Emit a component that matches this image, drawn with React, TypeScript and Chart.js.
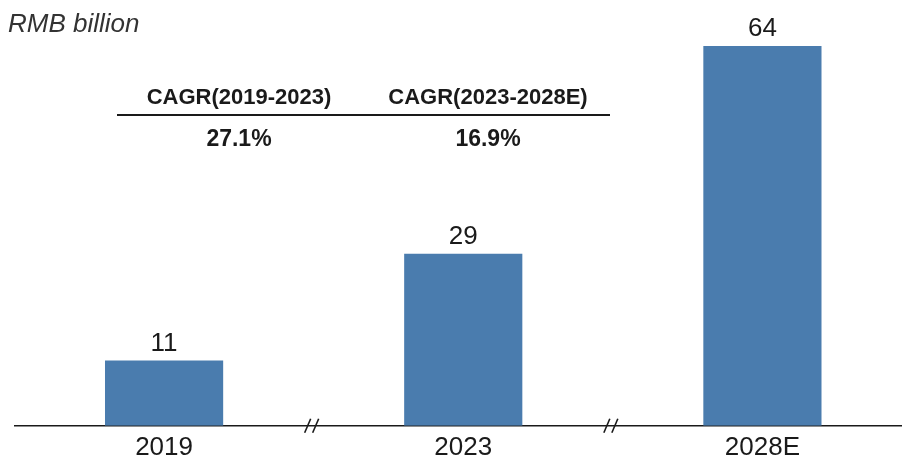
import React, { useEffect, useRef } from "react";
import { Chart, registerables } from "chart.js";

Chart.register(...registerables);

const categories = ["2019", "2023", "2028E"];
const values = [11, 29, 64];
const unitLabel = "RMB billion";
const cagrHeaders = ["CAGR(2019-2023)", "CAGR(2023-2028E)"];
const cagrValues = ["27.1%", "16.9%"];

const BAR_COLOR = "#4a7cae";
const FONT = "'Liberation Sans', Arial, sans-serif";

export default function App() {
  const ref = useRef<HTMLCanvasElement | null>(null);

  useEffect(() => {
    if (!ref.current) return;

    const overlay = {
      id: "overlay",
      afterDraw(chart: any) {
        const ctx = chart.ctx;
        const xs = chart.scales.x;
        const ys = chart.scales.y;
        const meta = chart.getDatasetMeta(0);
        ctx.save();
        // value labels
        ctx.fillStyle = "#1a1a1a";
        ctx.font = `26px ${FONT}`;
        ctx.textAlign = "center";
        ctx.textBaseline = "alphabetic";
        meta.data.forEach((bar: any, i: number) => {
          ctx.fillText(String(values[i]), bar.x, bar.y - 10);
        });
        // axis breaks
        const base = ys.getPixelForValue(0);
        ctx.strokeStyle = "#1a1a1a";
        ctx.lineWidth = 1.6;
        for (let i = 0; i < categories.length - 1; i++) {
          const cx = (xs.getPixelForValue(i) + xs.getPixelForValue(i + 1)) / 2 - 2;
          for (const dx of [-4, 4]) {
            ctx.beginPath();
            ctx.moveTo(cx + dx + 3, base - 7);
            ctx.lineTo(cx + dx - 3, base + 7);
            ctx.stroke();
          }
        }
        // unit label
        ctx.textAlign = "left";
        ctx.fillStyle = "#333";
        ctx.font = `italic 26px ${FONT}`;
        ctx.fillText(unitLabel, 8, 32);
        // CAGR table
        const centers = [239, 488];
        ctx.fillStyle = "#1a1a1a";
        ctx.textAlign = "center";
        ctx.font = `bold 22px ${FONT}`;
        cagrHeaders.forEach((h, i) => ctx.fillText(h, centers[i], 104));
        ctx.font = `bold 23px ${FONT}`;
        cagrValues.forEach((v, i) => ctx.fillText(v, centers[i], 146));
        ctx.lineWidth = 2;
        ctx.beginPath();
        ctx.moveTo(117, 115);
        ctx.lineTo(610, 115);
        ctx.stroke();
        ctx.restore();
      },
    };

    const chart = new Chart(ref.current, {
      type: "bar",
      data: {
        labels: categories,
        datasets: [
          {
            data: values,
            backgroundColor: BAR_COLOR,
            borderWidth: 0,
            categoryPercentage: 1,
            barPercentage: 0.395,
          },
        ],
      },
      options: {
        responsive: false,
        animation: false,
        layout: { padding: { left: 14.5, right: 0, top: 10.5, bottom: 0 } },
        plugins: { legend: { display: false }, tooltip: { enabled: false } },
        scales: {
          x: {
            offset: true,
            grid: { display: false, drawTicks: false },
            border: { display: true, color: "#1a1a1a", width: 1.5 },
            ticks: {
              color: "#1a1a1a",
              padding: 6,
              font: { family: FONT, size: 26 },
            },
          },
          y: {
            display: false,
            min: 0,
            max: 70,
          },
        },
      },
      plugins: [overlay],
    });
    return () => chart.destroy();
  }, []);

  return (
    <div
      style={{
        position: "fixed",
        left: 0,
        top: 0,
        width: 902,
        height: 461,
        overflow: "hidden",
        background: "#fff",
      }}
    >
      <canvas ref={ref} width={912} height={469} style={{ display: "block" }} />
    </div>
  );
}
